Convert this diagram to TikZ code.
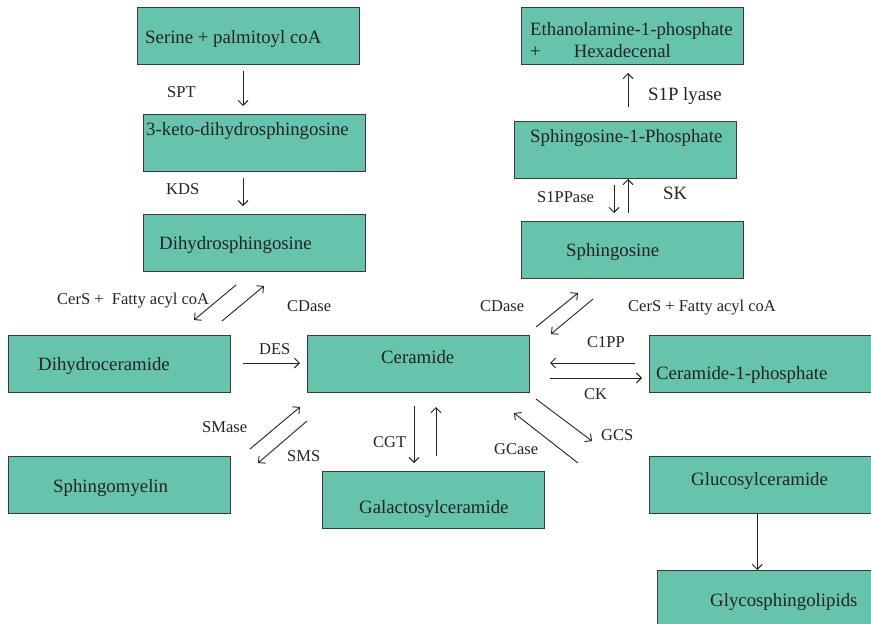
\documentclass[tikz,border=0pt]{standalone}
\usepackage{fontspec}
\setmainfont{Liberation Serif}
\usepackage{xcolor}
\usetikzlibrary{arrows.meta,positioning}

\definecolor{boxteal}{RGB}{102,196,172}
\definecolor{boxline}{RGB}{58,58,58}
\definecolor{inkgray}{RGB}{35,35,35}

\begin{document}
\begin{tikzpicture}[x=1pt, y=-1pt,
  box/.style={draw=boxline, line width=1pt, fill=boxteal, minimum width=221.5pt,
    minimum height=57pt, inner sep=0pt, anchor=north west},
  boxtxt/.style={anchor=base west, inner sep=0pt, text=inkgray,
    font=\fontsize{18.8}{21.8}\selectfont},
  enz/.style={anchor=base west, inner sep=0pt, text=inkgray,
    font=\fontsize{16.5}{19}\selectfont},
  rxn/.style={draw=inkgray, line width=0.9pt, -{Straight Barb[length=5pt,width=10pt]}}]

\clip (0,0) rectangle (871,624);

% Boxes
\node[box] (ser) at (137,7) {};
\node[box] (kdh) at (143,114) {};
\node[box] (dhs) at (143,214) {};
\node[box] (etp) at (521,7) {};
\node[box] (s1p) at (514,121) {};
\node[box] (sph) at (521,221) {};
\node[box] (dhc) at (8,335) {};
\node[box] (cer) at (307,335) {};
\node[box] (smy) at (8,456) {};
\node[box] (gal) at (322,471) {};
\node[box] (c1p) at (649,335) {};
\node[box] (glc) at (649,456) {};
\node[box] (gsl) at (657,570) {};

% Box texts
\node[boxtxt] (sert) at (145,43) {Serine + palmitoyl coA};
\node[boxtxt] (kdht) at (146,135) {3-keto-dihydrosphingosine};
\node[boxtxt] (dhst) at (159,249.5) {Dihydrosphingosine};
\node[boxtxt] (etpt) at (530,35.7) {Ethanolamine-1-phosphate};
\node[boxtxt] (etpu) at (530,57.5) {+\hspace{33pt}Hexadecenal};
\node[boxtxt] (s1pt) at (530,142.7) {Sphingosine-1-Phosphate};
\node[boxtxt] (spht) at (566,256.5) {Sphingosine};
\node[boxtxt] (dhct) at (38,370.5) {Dihydroceramide};
\node[boxtxt] (cert) at (381,363) {Ceramide};
\node[boxtxt] (smyt) at (53,492.5) {Sphingomyelin};
\node[boxtxt] (galt) at (359,513) {Galactosylceramide};
\node[boxtxt] (c1pt) at (656,379) {Ceramide-1-phosphate};
\node[boxtxt] (glct) at (691,485.5) {Glucosylceramide};
\node[boxtxt] (gslt) at (710,606.5) {Glycosphingolipids};

% Enzyme labels
\node[enz] (spt) at (167,97) {SPT};
\node[enz] (kds) at (166,194) {KDS};
\node[boxtxt] (lyase) at (648,100) {S1P lyase};
\node[enz] (sppase) at (537,202) {S1PPase};
\node[boxtxt] (sk) at (663,199) {SK};
\node[enz] (cersl) at (57,304) {CerS +\ \ Fatty acyl coA};
\node[enz] (cdasel) at (287,311.5) {CDase};
\node[enz] (cdaser) at (480,311.5) {CDase};
\node[enz] (cersr) at (628,311.5) {CerS + Fatty acyl coA};
\node[enz] (des) at (259,354) {DES};
\node[enz] (cipp) at (587,347) {C1PP};
\node[enz] (ck) at (584,399) {CK};
\node[enz] (smase) at (202,432) {SMase};
\node[enz] (sms) at (287,461) {SMS};
\node[enz] (cgt) at (373,447) {CGT};
\node[enz] (gcs) at (601,440.5) {GCS};
\node[enz] (gcase) at (494,454) {GCase};

% Arrow ends
\coordinate (a1) at (243,71);   \coordinate (b1) at (243,106);
\coordinate (a2) at (243,178);  \coordinate (b2) at (243,206);
\coordinate (a3) at (628,107);  \coordinate (b3) at (628,73);
\coordinate (a4) at (614,185);  \coordinate (b4) at (614,213);
\coordinate (a5) at (628,213);  \coordinate (b5) at (628,179);
\coordinate (a6) at (236,285);  \coordinate (b6) at (194,320);
\coordinate (a7) at (222,321);  \coordinate (b7) at (264,286);
\coordinate (a8) at (536,327);  \coordinate (b8) at (578,293);
\coordinate (a9) at (593,299);  \coordinate (b9) at (551,334);
\coordinate (a10) at (243,363); \coordinate (b10) at (300,363);
\coordinate (a11) at (635,363); \coordinate (b11) at (550,363);
\coordinate (a12) at (550,378); \coordinate (b12) at (642,378);
\coordinate (a13) at (250,449); \coordinate (b13) at (300,407);
\coordinate (a14) at (307,421); \coordinate (b14) at (258,463);
\coordinate (a15) at (414,406); \coordinate (b15) at (414,463);
\coordinate (a16) at (436,456); \coordinate (b16) at (436,407);
\coordinate (a17) at (536,399); \coordinate (b17) at (592,441);
\coordinate (a18) at (578,463); \coordinate (b18) at (514,413);

% Reactions
\foreach \i in {1,...,18}
  \draw[rxn] (a\i) -- (b\i);
\draw[rxn] ([xshift=-3pt]glc.south) -- ([xshift=-3pt]glc.south |- gsl.north);

\end{tikzpicture}
\end{document}
